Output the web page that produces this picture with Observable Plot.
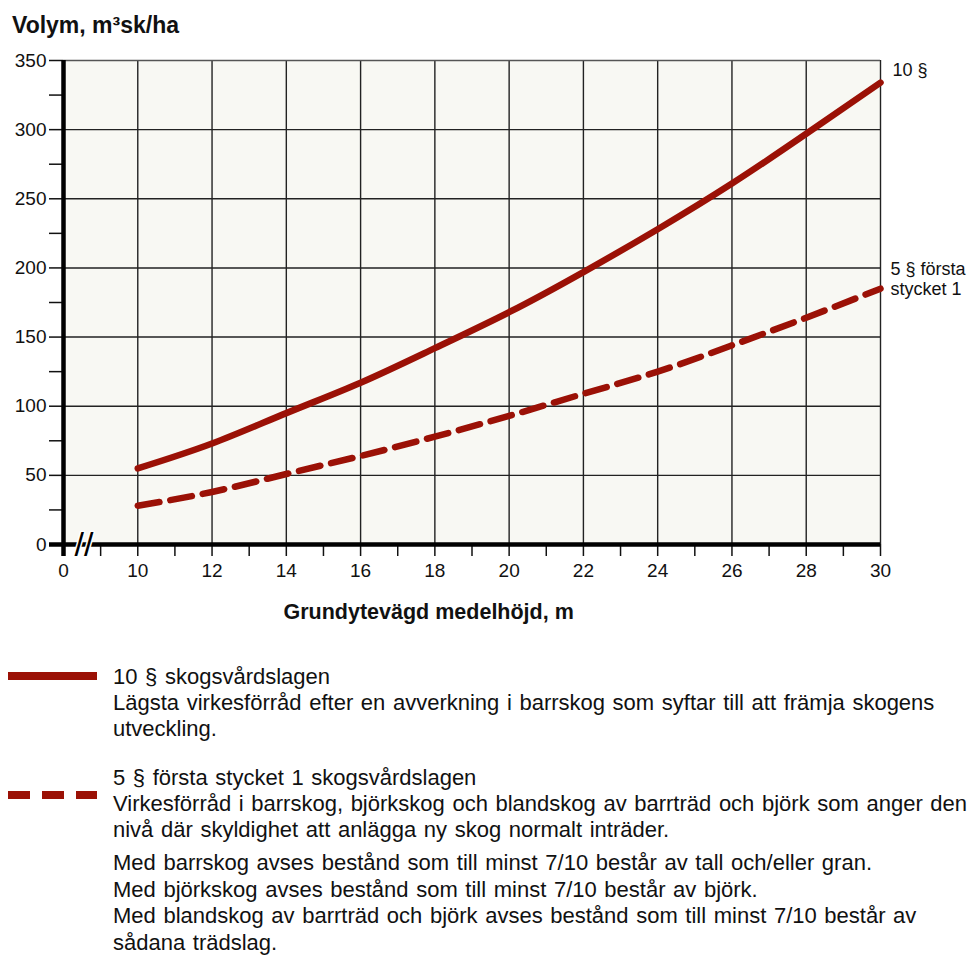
<!DOCTYPE html>
<html><head><meta charset="utf-8">
<script src="https://cdn.jsdelivr.net/npm/d3@7"></script>
<script src="https://cdn.jsdelivr.net/npm/@observablehq/plot@0.6"></script>
<style>
body{margin:0;background:#fff;font-family:"Liberation Sans",Arial,sans-serif;color:#111;}
#wrap{position:relative;width:971px;height:956px;overflow:hidden}
#title{position:absolute;left:12px;top:11px;font-weight:bold;font-size:23px;line-height:28px;white-space:nowrap}
#chart{position:absolute;left:0;top:42px;}
.leg{position:absolute;left:113px;font-size:22px;line-height:26px;word-spacing:1.5px;white-space:nowrap}
.sw{position:absolute;left:8px;width:89px;height:8px}
</style></head>
<body><div id="wrap">
<div id="title">Volym, m³sk/ha</div>
<div id="chart"></div>
<div class="sw" style="top:672px;background:#9b1106"></div>
<div class="sw" style="top:791px;background:repeating-linear-gradient(to right,#9b1106 0 22px,transparent 22px 34px)"></div>
<div class="leg" style="top:664px">10 § skogsvårdslagen<br>Lägsta virkesförråd efter en avverkning i barrskog som syftar till att främja skogens<br>utveckling.</div>
<div class="leg" style="top:765px">5 § första stycket 1 skogsvårdslagen<br>Virkesförråd i barrskog, björkskog och blandskog av barrträd och björk som anger den<br>nivå där skyldighet att anlägga ny skog normalt inträder.</div>
<div class="leg" style="top:850px;line-height:26.7px">Med barrskog avses bestånd som till minst 7/10 består av tall och/eller gran.<br>Med björkskog avses bestånd som till minst 7/10 består av björk.<br>Med blandskog av barrträd och björk avses bestånd som till minst 7/10 består av<br>sådana trädslag.</div>
</div>
<script>
// Data
const heights = [10, 12, 14, 16, 18, 20, 22, 24, 26, 28, 30];
const volym10 = [55, 73, 95, 117, 142, 168, 197, 228, 261, 297, 334];
const volym5  = [28, 38, 51, 64, 78, 93, 109, 125, 144, 164, 185];
const label10 = "10 §";
const label5 = "5 § första\nstycket 1";
const xTitle = "Grundytevägd medelhöjd, m";
// Broken x axis: position 8 carries the label "0"
const xMajor = [8, 10, 12, 14, 16, 18, 20, 22, 24, 26, 28, 30];
const xMajorLabels = ["0", "10", "12", "14", "16", "18", "20", "22", "24", "26", "28", "30"];
const xMinor = [9, 11, 13, 15, 17, 19, 21, 23, 25, 27, 29];
const yMajor = [0, 50, 100, 150, 200, 250, 300, 350];
const yMinor = [25, 75, 125, 175, 225, 275, 325];
const breakAt = [8.55];

const rows10 = heights.map((h, i) => ({h, v: volym10[i]}));
const rows5 = heights.map((h, i) => ({h, v: volym5[i]}));
const xLab = new Map(xMajor.map((d, i) => [d, xMajorLabels[i]]));
const red = "#9b1106";

const chart = Plot.plot({
  width: 971, height: 600,
  marginTop: 18, marginLeft: 63, marginRight: 91, marginBottom: 98,
  style: {fontFamily: "Liberation Sans, Arial, sans-serif", fontSize: "18px", color: "#111", background: "transparent", overflow: "visible"},
  x: {domain: [8, 30]},
  y: {domain: [0, 350]},
  marks: [
    Plot.frame({fill: "#f8f8f3", stroke: null}),
    Plot.ruleX(heights, {stroke: "#222", strokeWidth: 1.4}),
    Plot.ruleY(yMajor.filter(d => d > 0 && d < 350), {stroke: "#222", strokeWidth: 1.4}),
    Plot.ruleY([350], {stroke: "#555", strokeWidth: 1.5}),
    Plot.axisY(yMajor.concat(yMinor), {tickSize: 14, tickPadding: 3, fontSize: 19, color: "#111", strokeWidth: 1.5, label: null,
      tickFormat: d => (yMajor.includes(d) ? String(d) : "")}),
    Plot.axisX(xMajor.concat(xMinor), {tickSize: 12, tickPadding: 7, fontSize: 19, color: "#111", strokeWidth: 1.5, label: null,
      tickFormat: d => (xLab.has(d) ? xLab.get(d) : "")}),
    Plot.ruleX([8], {stroke: "#000", strokeWidth: 4.5, insetBottom: -12}),
    Plot.ruleY([0], {stroke: "#000", strokeWidth: 4.5, insetLeft: -14}),
    Plot.text(breakAt, {x: d => d, y: () => 0, text: () => "//", fontSize: 34, fill: "#000", stroke: "#fff", strokeWidth: 3, paintOrder: "stroke", dy: 1}),
    Plot.line(rows10, {x: "h", y: "v", stroke: red, strokeWidth: 6.5, curve: "natural"}),
    Plot.line(rows5, {x: "h", y: "v", stroke: red, strokeWidth: 6.5, strokeDasharray: "22,11", curve: "natural"}),
    Plot.text(rows10.slice(-1), {x: "h", y: "v", text: () => label10, dx: 12, dy: -12, textAnchor: "start", fontSize: 18, fill: "#111"}),
    Plot.text(rows5.slice(-1), {x: "h", y: "v", text: () => label5, dx: 10, dy: -10, textAnchor: "start", lineAnchor: "middle", lineHeight: 1.1, fontSize: 18, fill: "#111"}),
    Plot.text([xTitle], {frameAnchor: "bottom-left", dx: 220, dy: 68, textAnchor: "start", lineAnchor: "middle", fontSize: 21.5, fontWeight: "bold", fill: "#111"})
  ]
});
document.getElementById("chart").appendChild(chart);
</script>
</body></html>
